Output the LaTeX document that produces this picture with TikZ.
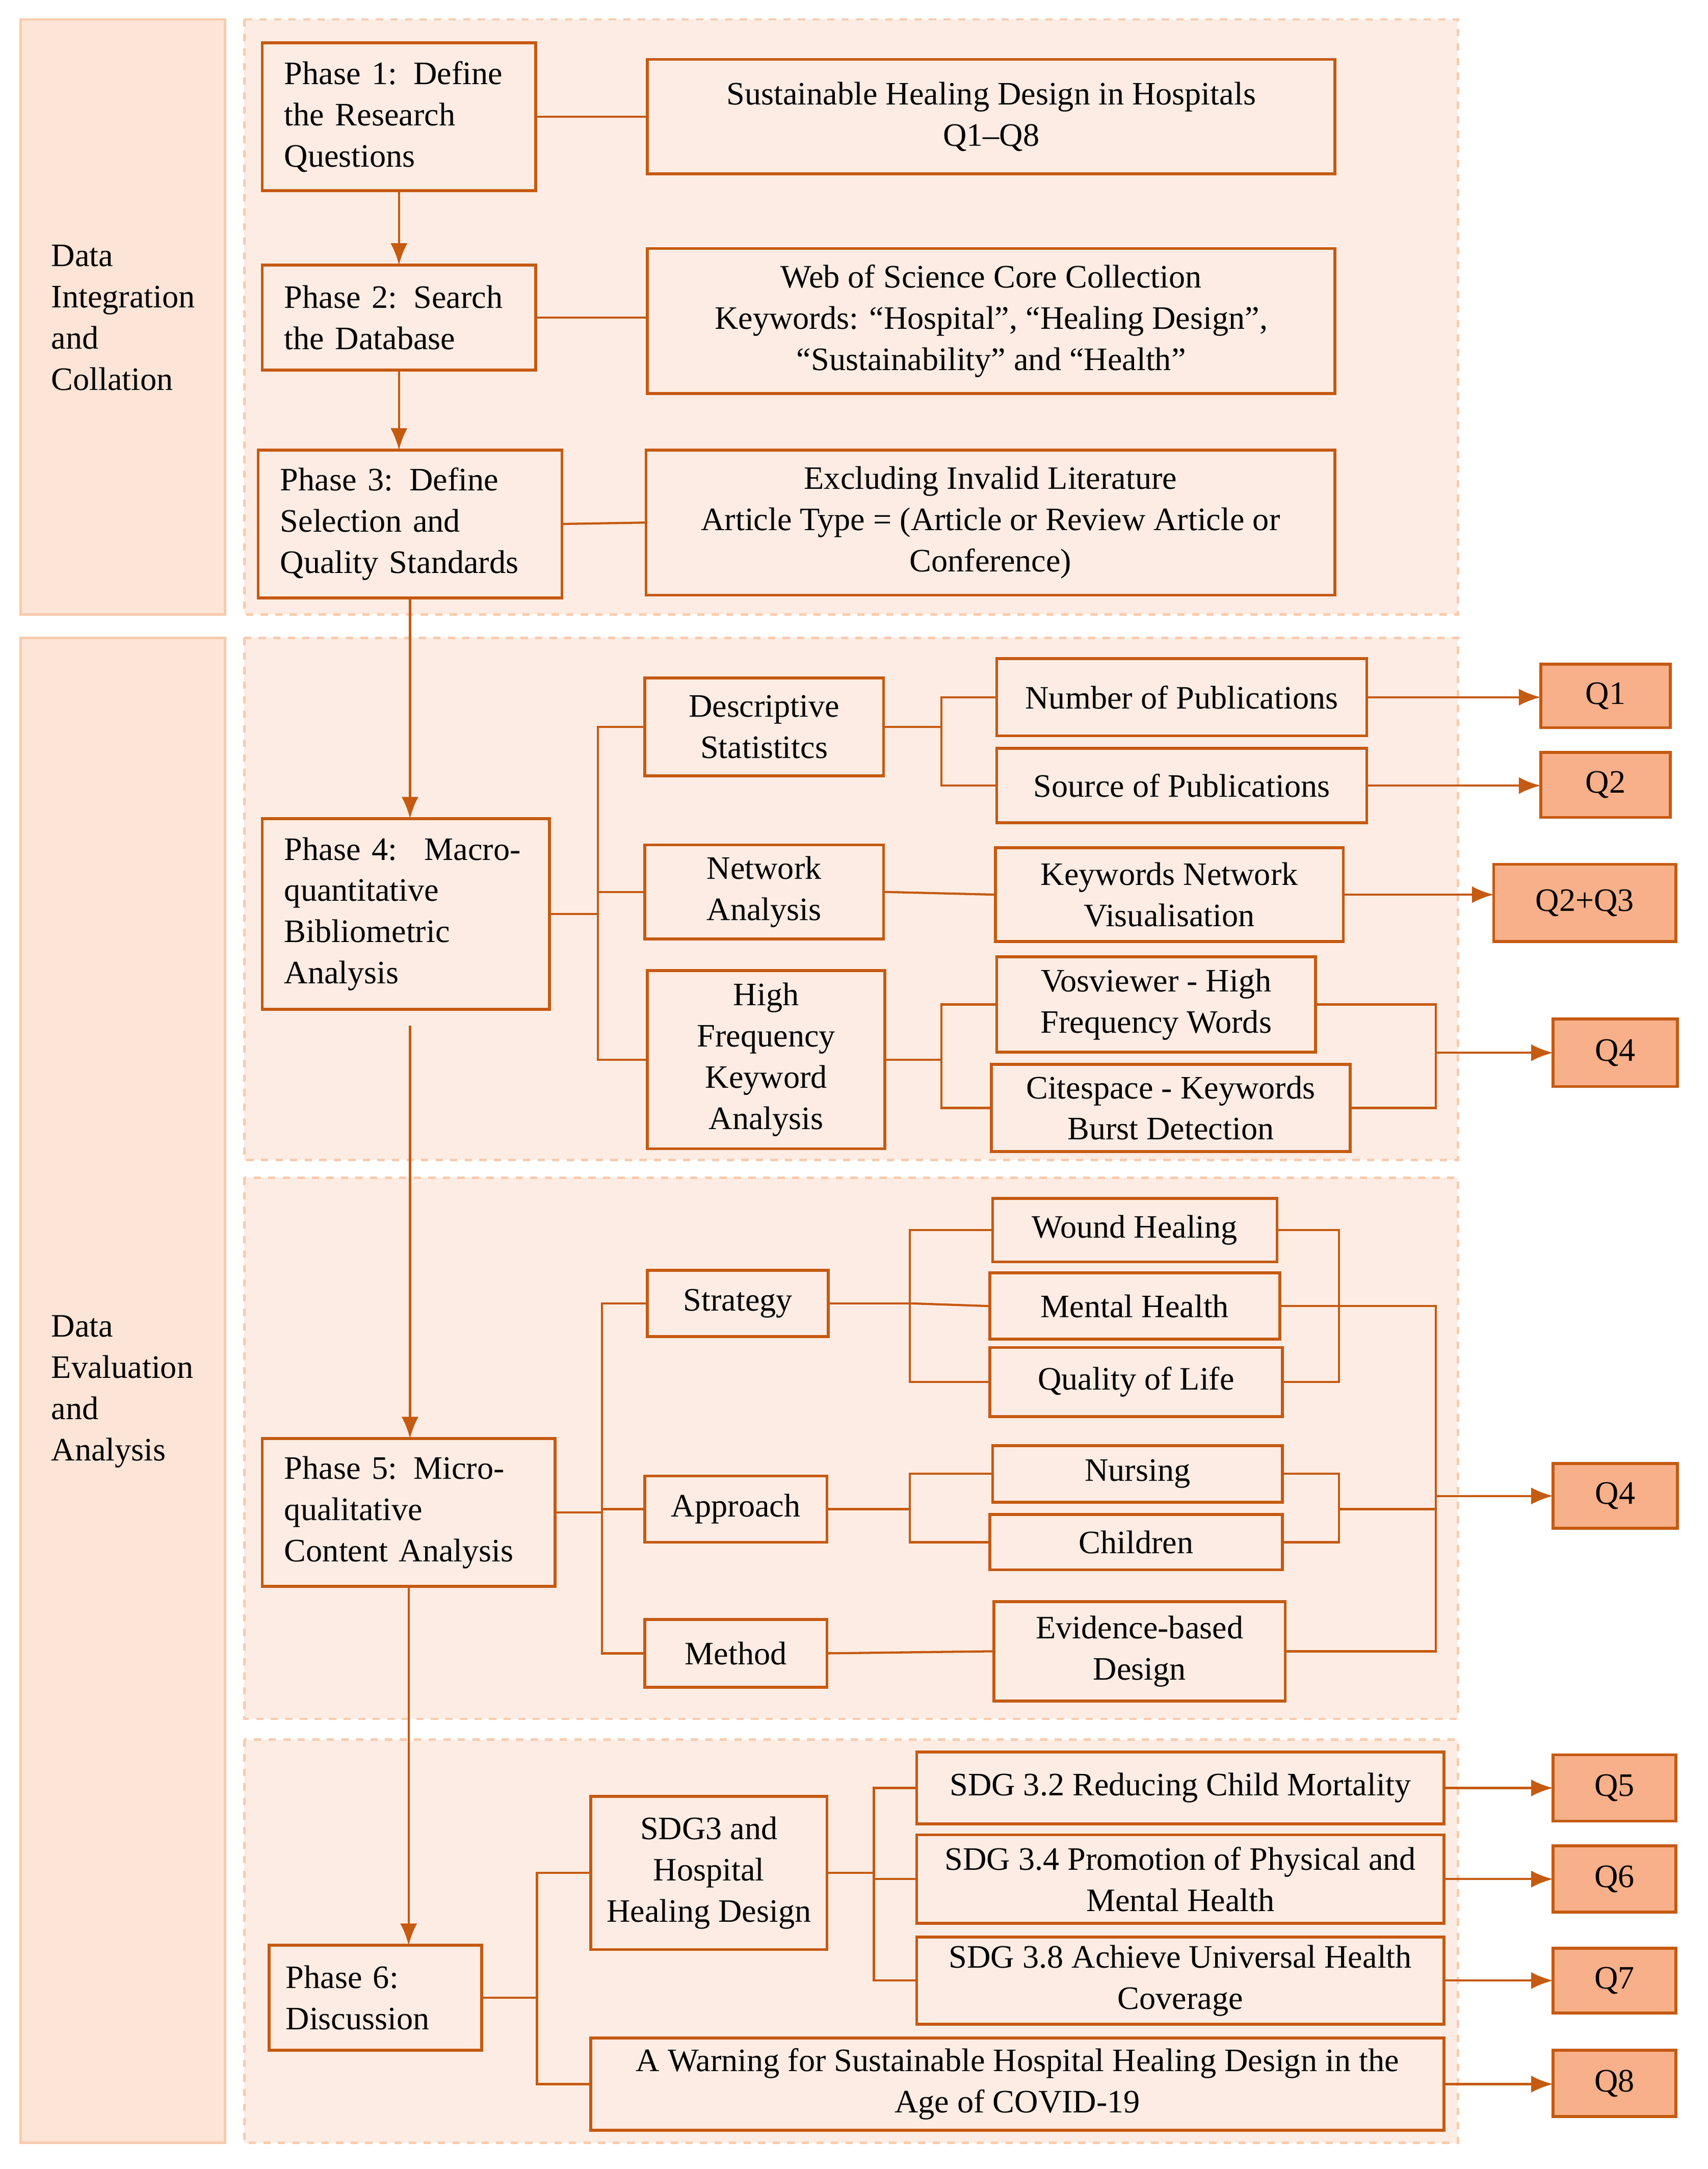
\documentclass[tikz,border=0pt]{standalone}
\usepackage{fontspec}
\setmainfont{Liberation Serif}
\usetikzlibrary{arrows.meta}
\definecolor{dk}{HTML}{C55A11}
\definecolor{bg}{HTML}{FDECE3}
\definecolor{pn}{HTML}{FCE4D6}
\definecolor{bd}{HTML}{F8CBAD}
\definecolor{qf}{HTML}{F8B08A}
\newcommand\bx[7][]{\node[box,#1,minimum width={(#5-#3)*0.02cm},minimum height={(#6-#4)*0.02cm}] (#2) at ({(#3+#5)/2},{(#4+#6)/2}) {#7};}
\begin{document}
\begin{tikzpicture}[x=0.02cm,y=-0.02cm,
 font=\fontsize{13.5}{17}\selectfont,
 box/.style={draw=dk,line width=1.2pt,inner sep=0pt,outer sep=0pt,align=center},
 ph/.style={align=left},
 q/.style={fill=qf},
 region/.style={fill=bg,draw=bd,dashed,line width=1pt},
 panel/.style={fill=pn,draw=bd,line width=1pt},
 ln/.style={draw=dk,line width=0.9pt},
 ar/.style={ln,-{Latex[length=9pt,width=7pt]}}]
\useasboundingbox (0,0) rectangle (1237,1571);
\fill[white] (0,0) rectangle (1237,1571);
% panels
\path[panel] (15,14) rectangle (163,445);
\path[panel] (15,462) rectangle (163,1552);
\node[align=left,anchor=west] (L1) at (31,230) {Data\\Integration\\and\\Collation};
\node[align=left,anchor=west] (L2) at (31,1008) {Data\\Evaluation\\and\\Analysis};
\path[region] (177,14) rectangle (1056,445);
\path[region] (177,462) rectangle (1056,840);
\path[region] (177,853) rectangle (1056,1245);
\path[region] (177,1260) rectangle (1056,1552);
% boxes
\bx[ph,text width={166*0.02cm}]{P1}{190}{31}{388}{138}{Phase 1: Define\\the Research\\Questions}
\bx{S1}{469}{43}{967}{126}{Sustainable Healing Design in Hospitals\\Q1--Q8}
\bx[ph,text width={166*0.02cm}]{P2}{190}{192}{388}{268}{Phase 2: Search\\the Database}
\bx{S2}{469}{180}{967}{285}{Web of Science Core Collection\\Keywords: “Hospital”, “Healing Design”,\\“Sustainability” and “Health”}
\bx[ph,text width={188*0.02cm}]{P3}{187}{326}{407}{433}{Phase 3: Define\\Selection and\\Quality Standards}
\bx{S3}{468}{326}{967}{431}{Excluding Invalid Literature\\Article Type = (Article or Review Article or\\Conference)}
\bx[ph,text width={176*0.02cm}]{P4}{190}{593}{398}{731}{Phase 4:~ Macro-\\quantitative\\Bibliometric\\Analysis}
\bx{Desc}{467}{491}{640}{562}{Descriptive\\Statistitcs}
\bx{Num}{722}{477}{990}{533}{Number of Publications}
\bx{Src}{722}{542}{990}{596}{Source of Publications}
\bx[q]{Q1}{1116}{481}{1210}{527}{Q1}
\bx[q]{Q2}{1116}{545}{1210}{592}{Q2}
\bx{Net}{467}{612}{640}{680}{Network\\Analysis}
\bx{KNV}{721}{614}{973}{682}{Keywords Network\\Visualisation}
\bx[q]{Q23}{1082}{626}{1214}{682}{Q2+Q3}
\bx{HF}{469}{703}{641}{832}{High\\Frequency\\Keyword\\Analysis}
\bx{Vos}{722}{693}{953}{762}{Vosviewer - High\\Frequency Words}
\bx{Cite}{718}{771}{978}{834}{Citespace - Keywords\\Burst Detection}
\bx[q]{Q4a}{1125}{738}{1215}{787}{Q4}
\bx[ph,text width={180*0.02cm}]{P5}{190}{1042}{402}{1149}{Phase 5: Micro-\\qualitative\\Content Analysis}
\bx{Str}{469}{920}{600}{968}{Strategy}
\bx{Wou}{719}{868}{925}{914}{Wound Healing}
\bx{Men}{717}{922}{927}{970}{Mental Health}
\bx{QoL}{717}{976}{929}{1026}{Quality of Life}
\bx{App}{467}{1069}{599}{1117}{Approach}
\bx{Nur}{719}{1047}{929}{1088}{Nursing}
\bx{Chi}{717}{1097}{929}{1137}{Children}
\bx{Met}{467}{1173}{599}{1222}{Method}
\bx{EBD}{720}{1160}{931}{1232}{Evidence-based\\Design}
\bx[q]{Q4b}{1125}{1060}{1215}{1107}{Q4}
\bx[ph,text width={130*0.02cm}]{P6}{195}{1409}{349}{1485}{Phase 6:\\Discussion}
\bx{SDG}{428}{1301}{599}{1412}{SDG3 and\\Hospital\\Healing Design}
\bx{S32}{664}{1269}{1046}{1321}{SDG 3.2 Reducing Child Mortality}
\bx{S34}{664}{1329}{1046}{1393}{SDG 3.4 Promotion of Physical and\\Mental Health}
\bx{S38}{664}{1403}{1046}{1466}{SDG 3.8 Achieve Universal Health\\Coverage}
\bx{War}{428}{1476}{1046}{1543}{A Warning for Sustainable Hospital Healing Design in the\\Age of COVID-19}
\bx[q]{Q5}{1125}{1271}{1214}{1319}{Q5}
\bx[q]{Q6}{1125}{1337}{1214}{1385}{Q6}
\bx[q]{Q7}{1125}{1411}{1214}{1458}{Q7}
\bx[q]{Q8}{1125}{1485}{1214}{1533}{Q8}
% connectors top
\draw[ln] (P1.east) -- (P1.east -| S1.west);
\draw[ar] (P1.south) -- (P2.north);
\draw[ln] (P2.east) -- (P2.east -| S2.west);
\draw[ar] (P2.south) -- (P2.south |- P3.north);
\draw[ln] (P3.east) -- (S3.west);
\draw[ar] (P3.south) -- (P3.south |- P4.north);
\draw[ar] (P4.south) ++(3,12) coordinate (p4s) -- (p4s |- P5.north);
\draw[ar] (P5.south) ++(0,0) coordinate (p5s) -- (p5s |- P6.north);
% phase 4
\draw[ln] (P4.east) -- ++(35,0) coordinate (t4);
\draw[ln] (Desc.west) -| (t4) |- (HF.west);
\draw[ln] (t4) |- (Net.west);
\draw[ln] (Desc.east) -- ++(42,0) coordinate (td);
\draw[ln] (Num.west) -| (td) |- (Src.west);
\draw[ar] (Num.east) -- (Num.east -| Q1.west);
\draw[ar] (Src.east) -- (Src.east -| Q2.west);
\draw[ln] (Net.east) -- (KNV.west);
\draw[ar] (KNV.east) -- (KNV.east -| Q23.west);
\draw[ln] (HF.east) -- ++(41,0) coordinate (th);
\draw[ln] (Vos.west) -| (th) |- (Cite.west);
\draw[ln] (Vos.east) -| ([xshift=1.74cm]Vos.east |- Q4a.west) coordinate (tq);
\draw[ln] (Cite.east) -| (tq);
\draw[ar] (tq) -- (Q4a.west);
% phase 5
\draw[ln] (P5.east) -- ++(34,0) coordinate (t5);
\draw[ln] (Str.west) -| (t5) |- (Met.west);
\draw[ln] (t5) |- (App.west);
\draw[ln] (Str.east) -- ++(59,0) coordinate (ts);
\draw[ln] (Wou.west) -| (ts) |- (QoL.west);
\draw[ln] (ts) -- (Men.west);
\draw[ln] (Wou.east) -| ([xshift=0.9cm]Wou.east |- Men.east) coordinate (ts2);
\draw[ln] (QoL.east) -| (ts2) -- (Men.east);
\draw[ln] (App.east) -- ++(60,0) coordinate (ta);
\draw[ln] (Nur.west) -| (ta) |- (Chi.west);
\draw[ln] (Nur.east) -| ([xshift=0.82cm]Nur.east |- App.east) coordinate (ta2);
\draw[ln] (Chi.east) -| (ta2);
\draw[ln] (Met.east) -- (EBD.west);
\draw[ln] (ts2) -- ++(70,0) coordinate (tt) -- (tt |- EBD.east) -- (EBD.east);
\draw[ln] (ta2) -- (ta2 -| tt);
\draw[ar] (tt |- Q4b.west) -- (Q4b.west);
% phase 6
\draw[ln] (P6.east) -- ++(40,0) coordinate (t6);
\draw[ln] (SDG.west) -| (t6) |- (War.west);
\draw[ln] (SDG.east) -- ++(34,0) coordinate (tg);
\draw[ln] (S32.west) -| (tg) |- (S38.west);
\draw[ln] (tg |- S34.west) -- (S34.west);
\draw[ar] (S32.east) -- (S32.east -| Q5.west);
\draw[ar] (S34.east) -- (S34.east -| Q6.west);
\draw[ar] (S38.east) -- (S38.east -| Q7.west);
\draw[ar] (War.east) -- (War.east -| Q8.west);
\end{tikzpicture}
\end{document}
